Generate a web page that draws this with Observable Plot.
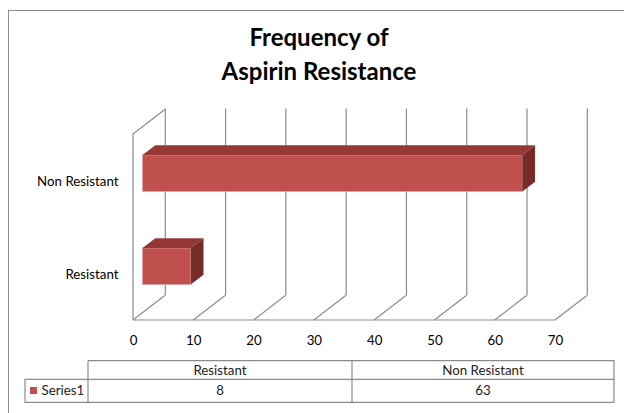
<!DOCTYPE html>
<html><head><meta charset="utf-8">
<script src="https://cdn.jsdelivr.net/npm/d3@7"></script>
<script src="https://cdn.jsdelivr.net/npm/@observablehq/plot@0.6"></script>
<style>
body{margin:0;background:#fff;overflow:hidden}
#wrap{position:relative;width:624px;height:413px;overflow:hidden;font-family:Lato,"Open Sans",sans-serif;color:#000}
#frame{position:absolute;left:8px;top:10px;width:700px;height:500px;border-left:1px solid #8a8a8a;border-top:1px solid #8a8a8a;box-sizing:border-box}
.tl{position:absolute;left:0;width:638px;text-align:center;font-weight:bold;font-size:24px;line-height:24px;white-space:nowrap}
#chart{position:absolute;left:0;top:100px}
#table{position:absolute;left:0;top:350px}
</style></head>
<body><div id="wrap"><div id="frame"></div>
<div class="tl" style="top:25px">Frequency of</div>
<div class="tl" style="top:59px">Aspirin Resistance</div>
<div id="chart"></div><div id="table"></div></div>
<script>
const titleLines = ["Frequency of", "Aspirin Resistance"];
const categories = ["Resistant", "Non Resistant"];
const values = [8, 63];
const seriesName = "Series1";
const xTicks = [0, 10, 20, 30, 40, 50, 60, 70];

const data = categories.map((c, i) => ({category: c, value: values[i]}));
const FRONT = "#C0504D", TOP = "#953735", SIDE = "#772C2A", GRID = "#8c8c8c";
const DX = 31.8, DY = -24.4;          // wall depth
const A = 0.30, B = 0.70;             // bar depth fraction
const INSET = 28.25;

function depth(index, scales) {
  const sx = scales.x, sy = scales.y;
  const g = d3.create("svg:g").attr("fill", "none").attr("stroke", GRID).attr("stroke-width", 1.2);
  const yb = sy(categories[0]) + sy.bandwidth();
  const yt = sy(categories[categories.length - 1]);
  g.append("line").attr("x1", sx(xTicks[0])).attr("x2", sx(xTicks[xTicks.length-1])).attr("y1", yb).attr("y2", yb);
  for (const t of xTicks) g.append("line").attr("x1", sx(t)).attr("y1", yb).attr("x2", sx(t) + DX).attr("y2", yb + DY);
  const x0 = sx(0);
  g.append("polyline").attr("points", [[x0, yb], [x0, yt], [x0 + DX, yt + DY]].join(" "));
  return g.node();
}

function faces(index, scales) {
  const sx = scales.x, sy = scales.y, bw = sy.bandwidth();
  const g = d3.create("svg:g");
  for (const d of data) {
    const xa = sx(0), xb = sx(d.value);
    const y0 = sy(d.category) + INSET, y1 = sy(d.category) + bw - INSET;
    const ax = DX * A, ay = DY * A, bx = DX * B, by = DY * B;
    g.append("polygon").attr("fill", TOP)
      .attr("points", [[xa+ax, y0+ay], [xb+ax, y0+ay], [xb+bx, y0+by], [xa+bx, y0+by]].join(" "));
    g.append("polygon").attr("fill", SIDE)
      .attr("points", [[xb+ax, y0+ay], [xb+bx, y0+by], [xb+bx, y1+by], [xb+ax, y1+ay]].join(" "));
  }
  return g.node();
}

const plot = Plot.plot({
  width: 624, height: 250,
  marginLeft: 133, marginRight: 69, marginTop: 33, marginBottom: 30,
  style: {background: "transparent", overflow: "visible", fontFamily: "Lato, sans-serif", fontSize: "13px", color: "#000"},
  x: {domain: [xTicks[0], xTicks[xTicks.length - 1]]},
  y: {type: "band", domain: categories.slice().reverse(), padding: 0},
  marks: [
    Plot.ruleX(xTicks, {dx: DX, dy: DY, stroke: GRID, strokeWidth: 1.2}),
    depth,
    Plot.barX(data, {x: "value", y: "category", fill: FRONT, stroke: "#e0a09e", strokeWidth: 0.8,
      insetTop: INSET, insetBottom: INSET, dx: DX * A, dy: DY * A}),
    faces,
    Plot.axisX(xTicks, {tickSize: 0, tickPadding: 15, label: null, fill: "#000", fontSize: 13.3}),
    Plot.axisY({tickSize: 0, tickPadding: 15, label: null, fill: "#000", fontSize: 13.3, dy: 1})
  ]
});
document.getElementById("chart").append(plot);

// data table
const T = d3.select("#table").append("svg").attr("width", 624).attr("height", 63)
  .style("font-family", "Lato, sans-serif").style("font-size", "13.3px");
const L = 25, C1 = 88, R = 614, Y0 = 10.7, Y1 = 29.3, Y2 = 52.3;
const colEdges = [C1, 352, R];
const tg = T.append("g").attr("stroke", GRID).attr("stroke-width", 1.2).attr("fill", "none");
tg.append("path").attr("d", `M${C1},${Y0}H${R}V${Y2}H${L}V${Y1}H${R}M${C1},${Y0}V${Y2}M${colEdges[1]},${Y0}V${Y2}`);
categories.forEach((c, i) => {
  const cx = (colEdges[i] + colEdges[i + 1]) / 2;
  T.append("text").attr("x", cx).attr("y", (Y0 + Y1) / 2).attr("dy", "0.35em").attr("text-anchor", "middle").attr("fill", "#222").text(c);
  T.append("text").attr("x", cx).attr("y", (Y1 + Y2) / 2).attr("dy", "0.35em").attr("text-anchor", "middle").attr("fill", "#222").text(values[i]);
});
T.append("rect").attr("x", 30).attr("y", 37).attr("width", 7).attr("height", 7).attr("fill", FRONT);
T.append("text").attr("x", 41.5).attr("y", (Y1 + Y2) / 2).attr("dy", "0.35em").attr("fill", "#222").text(seriesName);
</script></body></html>
